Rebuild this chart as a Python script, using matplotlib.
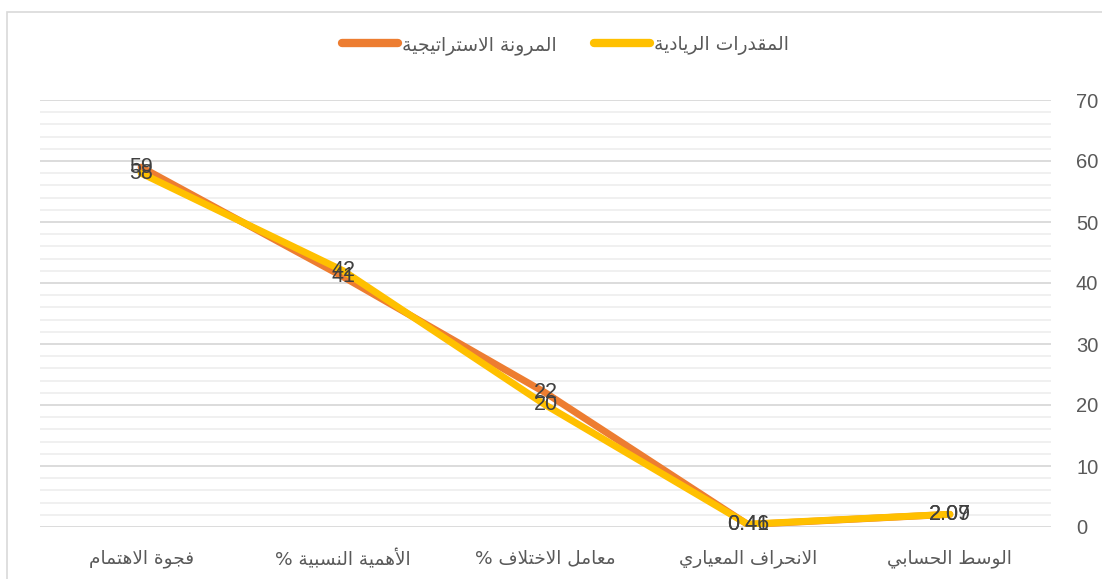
import matplotlib
matplotlib.use("Agg")
import matplotlib.pyplot as plt
from matplotlib.patches import Rectangle
from matplotlib.ticker import MultipleLocator

plt.rcParams['font.family'] = ['Liberation Sans', 'DejaVu Sans']

# categories, right to left as in the reference
categories = ["الوسط الحسابي", "الانحراف المعياري", "معامل الاختلاف %",
              "الأهمية النسبية %", "فجوة الاهتمام"]
series_names = ["المرونة الاستراتيجية", "المقدرات الريادية"]
flex_values = [2.07, 0.41, 22, 41, 59]
entre_values = [2.09, 0.46, 20, 42, 58]
flex_color = "#ED7D31"
entre_color = "#FFC000"

# --- small arabic shaper (matplotlib has no bidi / joining support) ---
# letter: (isolated, final, initial, medial); None -> joins to the right only
FORMS = {
    'ا': (0xFE8D, 0xFE8E, None, None), 'أ': (0xFE83, 0xFE84, None, None),
    'ب': (0xFE8F, 0xFE90, 0xFE91, 0xFE92), 'ة': (0xFE93, 0xFE94, None, None),
    'ت': (0xFE95, 0xFE96, 0xFE97, 0xFE98), 'ج': (0xFE9D, 0xFE9E, 0xFE9F, 0xFEA0),
    'ح': (0xFEA1, 0xFEA2, 0xFEA3, 0xFEA4), 'خ': (0xFEA5, 0xFEA6, 0xFEA7, 0xFEA8),
    'د': (0xFEA9, 0xFEAA, None, None), 'ر': (0xFEAD, 0xFEAE, None, None),
    'س': (0xFEB1, 0xFEB2, 0xFEB3, 0xFEB4), 'ط': (0xFEC1, 0xFEC2, 0xFEC3, 0xFEC4),
    'ع': (0xFEC9, 0xFECA, 0xFECB, 0xFECC), 'ف': (0xFED1, 0xFED2, 0xFED3, 0xFED4),
    'ق': (0xFED5, 0xFED6, 0xFED7, 0xFED8), 'ل': (0xFEDD, 0xFEDE, 0xFEDF, 0xFEE0),
    'م': (0xFEE1, 0xFEE2, 0xFEE3, 0xFEE4), 'ن': (0xFEE5, 0xFEE6, 0xFEE7, 0xFEE8),
    'ه': (0xFEE9, 0xFEEA, 0xFEEB, 0xFEEC), 'و': (0xFEED, 0xFEEE, None, None),
    'ي': (0xFEF1, 0xFEF2, 0xFEF3, 0xFEF4),
    'لا': (0xFEFB, 0xFEFC, None, None), 'لأ': (0xFEF7, 0xFEF8, None, None),
}


def shape(text):
    units = []
    i = 0
    while i < len(text):
        if text[i] == 'ل' and i + 1 < len(text) and text[i + 1] in 'اأ':
            units.append(text[i:i + 2])
            i += 2
        else:
            units.append(text[i])
            i += 1
    out = []
    for k, u in enumerate(units):
        if u not in FORMS:
            out.append(u)
            continue
        prev = units[k - 1] if k > 0 else None
        nxt = units[k + 1] if k + 1 < len(units) else None
        join_prev = prev in FORMS and FORMS[prev][2] is not None
        join_next = nxt in FORMS and FORMS[u][2] is not None
        iso, fin, ini, med = FORMS[u]
        if join_prev and join_next:
            cp = med
        elif join_prev:
            cp = fin
        elif join_next:
            cp = ini
        else:
            cp = iso
        out.append(chr(cp))
    return "".join(out)[::-1]


arabic_font = ['DejaVu Sans']

fig = plt.figure(figsize=(11.02, 5.79), dpi=100)
fig.patches.append(Rectangle((7 / 1102, -0.1), 1.2, 1.1 - 12 / 579, transform=fig.transFigure,
                             fill=False, edgecolor="#D9D9D9", linewidth=1.2))
ax = fig.add_axes([40 / 1102, 52 / 579, 1011 / 1102, 427 / 579])

x = range(len(categories))
ax.plot(x, flex_values, color=flex_color, linewidth=5, solid_capstyle='round',
        label=shape(series_names[0]), zorder=3)
ax.plot(x, entre_values, color=entre_color, linewidth=5, solid_capstyle='round',
        label=shape(series_names[1]), zorder=4)

for vals in (flex_values, entre_values):
    for xi, v in zip(x, vals):
        ax.text(xi, v, f"{v:g}", ha='center', va='center', fontsize=15.5,
                color="#404040", zorder=5)

ax.set_xlim(len(categories) - 0.5, -0.5)
ax.set_ylim(0, 70)
ax.yaxis.set_major_locator(MultipleLocator(10))
ax.yaxis.set_minor_locator(MultipleLocator(2))
ax.grid(axis='y', which='minor', color="#EDEDED", linewidth=1.2)
ax.grid(axis='y', which='major', color="#D9D9D9", linewidth=1.3)
ax.set_axisbelow(True)
for s in ax.spines.values():
    s.set_visible(False)

ax.yaxis.tick_right()
ax.tick_params(axis='y', which='both', length=0, pad=18, labelsize=14.5, labelcolor="#595959")
ax.set_xticks(list(x))
ax.set_xticklabels([shape(c) for c in categories], family=arabic_font,
                   fontsize=13.3, color="#595959")
ax.tick_params(axis='x', length=0, pad=16)

leg = ax.legend(loc='center', bbox_to_anchor=(0.5 + 20 / 1011, (579 - 45 - 52) / 427), ncol=2,
                frameon=False, handlelength=3, columnspacing=2.0, handletextpad=0.2,
                prop={'family': arabic_font, 'size': 13.5})
for t in leg.get_texts():
    t.set_color("#595959")
for h in leg.get_lines():
    h.set_linewidth(6)

fig.savefig("out.png", dpi=100)
